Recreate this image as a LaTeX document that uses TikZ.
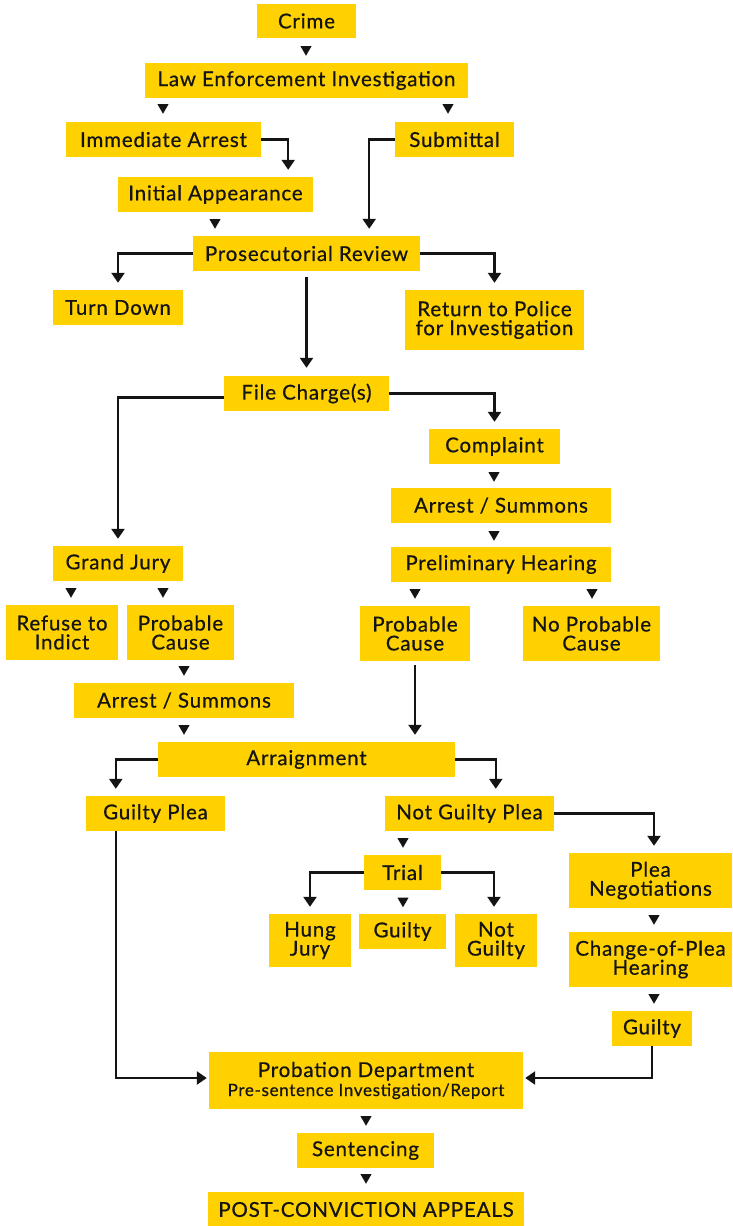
\documentclass[tikz,border=0pt]{standalone}
\usepackage{fontspec}
\setmainfont{Lato}[LetterSpace=4,FakeBold=0.6]
\usetikzlibrary{shapes.geometric,arrows.meta,calc}
\definecolor{boxy}{RGB}{255,209,0}
\definecolor{ink}{RGB}{20,20,20}
\begin{document}
\begin{tikzpicture}[x=1pt,y=-1pt,
 box/.style={fill=boxy, inner sep=0pt, text=ink, align=center, font=\fontsize{20.5}{19}\selectfont},
 tri/.style={regular polygon, regular polygon sides=3, shape border rotate=180, fill=ink, minimum size=13pt, inner sep=0pt},
 conn/.style={draw=ink, line width=2.4pt, -{Triangle[width=13pt,length=10pt]}, shorten >=7pt},
]
\useasboundingbox (0,0) rectangle (732,1226);
% boxes
\node[box,minimum width=99pt,minimum height=34pt] (crime) at (306.5,21) {Crime};
\node[box,minimum width=323pt,minimum height=35pt] (lei) at (306.5,80.5) {Law Enforcement Investigation};
\node[box,minimum width=195pt,minimum height=35pt] (ia) at (163.5,139.5) {Immediate Arrest};
\node[box,minimum width=119pt,minimum height=35pt] (sub) at (454.5,139.5) {Submittal};
\node[box,minimum width=195pt,minimum height=35pt] (inapp) at (215.5,194.5) {Initial Appearance};
\node[box,minimum width=227pt,minimum height=35pt] (pr) at (306.5,253.5) {Prosecutorial Review};
\node[box,minimum width=130pt,minimum height=35pt] (td) at (118,307.5) {Turn Down};
\node[box,minimum width=179pt,minimum height=60pt] (rtp) at (494.5,320) {Return to Police\\for Investigation};
\node[box,minimum width=165pt,minimum height=35pt] (fc) at (306.5,393.5) {File Charge(s)};
\node[box,minimum width=130pt,minimum height=35pt] (gj) at (118,563.5) {Grand Jury};
\node[box,minimum width=131pt,minimum height=35pt] (comp) at (494.5,446.5) {Complaint};
\node[box,minimum width=220pt,minimum height=35pt] (asr) at (501,505.5) {Arrest / Summons};
\node[box,minimum width=220pt,minimum height=35pt] (ph) at (501,564.5) {Preliminary Hearing};
\node[box,minimum width=110pt,minimum height=55pt] (pcr) at (415,633.5) {Probable\\Cause};
\node[box,minimum width=137pt,minimum height=55pt] (npc) at (591.5,633.5) {No Probable\\Cause};
\node[box,minimum width=112pt,minimum height=55pt] (rti) at (62,632.5) {Refuse to\\Indict};
\node[box,minimum width=107pt,minimum height=55pt] (pcl) at (180.5,632.5) {Probable\\Cause};
\node[box,minimum width=220pt,minimum height=35pt] (asl) at (184,700.5) {Arrest / Summons};
\node[box,minimum width=297pt,minimum height=35pt] (arr) at (306.5,759.5) {Arraignment};
\node[box,minimum width=139pt,minimum height=35pt] (gp) at (155.5,813.5) {Guilty Plea};
\node[box,minimum width=169pt,minimum height=35pt] (ngp) at (469.5,813.5) {Not Guilty Plea};
\node[box,minimum width=77pt,minimum height=35pt] (trial) at (402.5,872.5) {Trial};
\node[box,minimum width=82pt,minimum height=53pt] (hj) at (310,940.5) {Hung\\Jury};
\node[box,minimum width=87pt,minimum height=35pt] (gt) at (402.5,931.5) {Guilty};
\node[box,minimum width=82pt,minimum height=53pt] (ng) at (496,940.5) {Not\\Guilty};
\node[box,minimum width=163pt,minimum height=55pt] (pn) at (650.5,880.5) {Plea\\Negotiations};
\node[box,minimum width=163pt,minimum height=55pt] (cph) at (650.5,959.5) {Change-of-Plea\\Hearing};
\node[box,minimum width=80pt,minimum height=35pt] (gr) at (652,1028.5) {Guilty};
\node[box,minimum width=314pt,minimum height=57pt] (prob) at (366,1080.5) {Probation Department\\\fontsize{17}{20}\selectfont Pre-sentence Investigation/Report};
\node[box,minimum width=137pt,minimum height=35pt] (sent) at (365.5,1150.5) {Sentencing};
\node[box,minimum width=316pt,minimum height=35pt] (pca) at (366,1209.5) {POST-CONVICTION APPEALS};
% small triangles
\node[tri] (t1) at (306,49.25) {};
\node[tri] (t2) at (163,107.25) {};
\node[tri] (t3) at (448,107.25) {};
\node[tri] (t4) at (215,222.25) {};
\node[tri] (t5) at (494,475.25) {};
\node[tri] (t6) at (494,534.25) {};
\node[tri] (t7) at (415,592.25) {};
\node[tri] (t8) at (592,592.25) {};
\node[tri] (t9) at (71,591.25) {};
\node[tri] (t10) at (163,591.25) {};
\node[tri] (t11) at (184,669.25) {};
\node[tri] (t12) at (184,728.25) {};
\node[tri] (t13) at (403,841.25) {};
\node[tri] (t14) at (403,900.75) {};
\node[tri] (t15) at (654,918.25) {};
\node[tri] (t16) at (654,997.25) {};
\node[tri] (t17) at (366,1119.25) {};
\node[tri] (t18) at (366,1177.25) {};
% connectors
\draw[conn] (ia.east) -| ([xshift=-25pt]inapp.north east);
\draw[conn] (sub.west) -| ([xshift=-51pt]pr.north east);
\draw[conn] (pr.west) -| (td.north);
\draw[conn] (pr.east) -| (rtp.north);
\draw[conn, shorten <=6pt, shorten >=8pt] (pr.south) -- (fc.north);
\draw[conn] ([yshift=-4pt]fc.west) -| (gj.north);
\draw[conn] (fc.east) -| (comp.north);
\draw[conn, shorten <=4pt] (pcr.south) -- (pcr.south |- arr.north);
\draw[conn] (arr.west) -| ([xshift=30pt]gp.north west);
\draw[conn] (arr.east) -| ([xshift=111pt]ngp.north west);
\draw[conn] (ngp.east) -| ([xshift=3.5pt]pn.north);
\draw[conn] (trial.west) -| (hj.north);
\draw[conn] (trial.east) -| ([xshift=-2pt]ng.north);
\draw[conn, shorten >=2pt] ([xshift=30pt]gp.south west) |- ([yshift=2.5pt]prob.west);
\draw[conn, shorten >=2pt] (gr.south) |- ([yshift=2.5pt]prob.east);
\end{tikzpicture}
\end{document}
